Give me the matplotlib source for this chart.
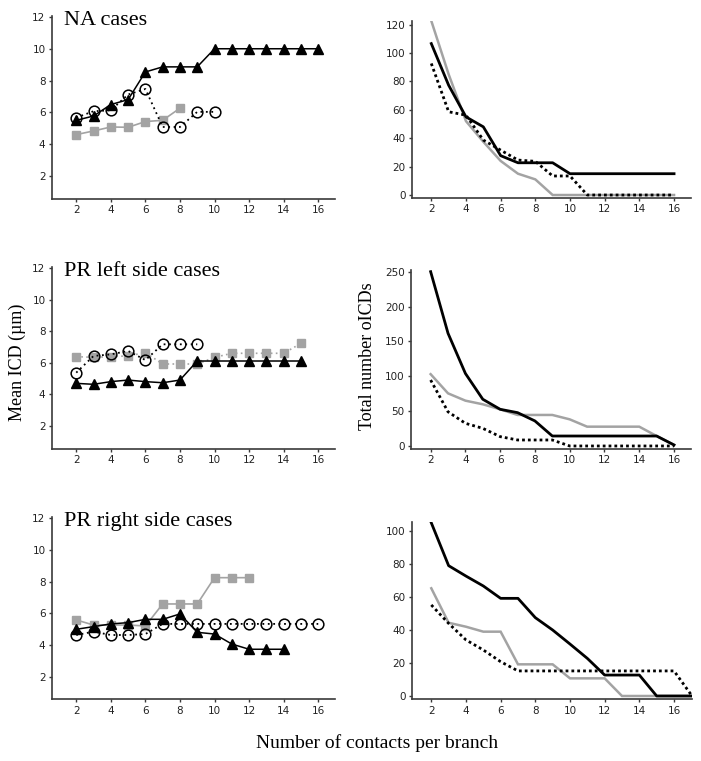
#/usr/bin/env python
'''
Mean ICD and total number of ICDs vs number of contacts per branch
'''
import numpy as np
import matplotlib
matplotlib.use('Agg')
import matplotlib.pyplot as plt

# Constants
BIGFONT=16
MIDFONT=13
SMFONT=7.5

FIG_W=701
FIG_H=761
DPI=100

GRAY='#a3a3a3'
SPINE='#3a3a3a'

# ---------------- data ----------------
x_na_tri = list(range(2, 17))
na_tri = [5.5, 5.77, 6.49, 6.8, 8.54, 8.86, 8.86, 8.86, 10, 10, 10, 10, 10, 10, 10]
x_na_circ = list(range(2, 11))
na_circ = [5.67, 6.07, 6.13, 7.12, 7.47, 5.08, 5.08, 6.03, 6.03]
x_na_sq = list(range(2, 9))
na_sq = [4.6, 4.83, 5.08, 5.06, 5.42, 5.5, 6.26]

x_na_tot = list(range(2, 17))
na_tot_black = [106.6, 77.3, 55, 48, 27.7, 22.7, 22.7, 22.7, 15, 15, 15, 15, 15, 15, 15]
na_tot_gray = [122.6, 85, 52, 37.5, 24, 15, 11, 0, 0, 0, 0, 0, 0, 0, 0]
na_tot_dot = [92.6, 58.6, 56.2, 38.7, 31.6, 24.6, 23.7, 13.4, 13.4, 0, 0, 0, 0, 0, 0]

x_pl_tri = list(range(2, 16))
pl_tri = [4.69, 4.63, 4.8, 4.9, 4.8, 4.73, 4.9, 6.11, 6.11, 6.11, 6.11, 6.11, 6.11, 6.11]
x_pl_circ = list(range(2, 10))
pl_circ = [5.37, 6.43, 6.53, 6.75, 6.17, 7.17, 7.17, 7.17]
x_pl_sq = list(range(2, 16))
pl_sq = [6.39, 6.34, 6.39, 6.43, 6.64, 5.92, 5.92, 5.92, 6.34, 6.6, 6.6, 6.6, 6.6, 7.23]

x_pl_tot = list(range(2, 17))
pl_tot_black = [250, 161.6, 104, 67, 52.6, 47.8, 35.9, 14.3, 14.3, 14.3, 14.3, 14.3, 14.3, 14.3, 1.5]
pl_tot_gray = [103, 75.5, 65, 59.8, 52.6, 44.5, 44.5, 44.5, 38.2, 27.7, 27.7, 27.7, 27.7, 14.3, 1.5]
pl_tot_dot = [94.6, 49, 32.5, 25.3, 13.4, 8.6, 8.6, 8.6, 0, 0, 0, 0, 0, 0, 0]

x_pr_tri = list(range(2, 15))
pr_tri = [4.99, 5.16, 5.33, 5.41, 5.62, 5.62, 5.96, 4.8, 4.69, 4.06, 3.73, 3.73, 3.73]
x_pr_circ = list(range(2, 17))
pr_circ = [4.63, 4.84, 4.63, 4.63, 4.69, 5.33, 5.33, 5.33, 5.33, 5.33, 5.33, 5.33, 5.33, 5.33, 5.33]
x_pr_sq = list(range(2, 13))
pr_sq = [5.58, 5.26, 5.26, 5.26, 5.2, 6.59, 6.59, 6.59, 8.25, 8.25, 8.25]

x_pr_tot = list(range(2, 18))
pr_tot_black = [105, 79, 72.7, 66.7, 59.2, 59.2, 47.5, 40, 31.5, 22.8, 12.7, 12.7, 12.7, 0, 0, 0]
pr_tot_gray = [65.3, 44.4, 42, 39, 39, 19.2, 19.2, 19.2, 10.7, 10.7, 10.7, 0, 0, 0, 0, 0]
pr_tot_dot = [55.2, 44, 34, 27.9, 20.8, 15.2, 15.2, 15.2, 15.2, 15.2, 15.2, 15.2, 15.2, 15.2, 15.2, 0.6]

titles = ['NA cases', 'PR left side cases', 'PR right side cases']

#--------------Function Defination----------------

def px_axes(fig, left, top, right, bottom):
    """ add axes from pixel box (top-left origin) """
    return fig.add_axes([left/FIG_W, 1-bottom/FIG_H, (right-left)/FIG_W, (bottom-top)/FIG_H])

def style_ax(ax):
    for s in ['top', 'right']:
        ax.spines[s].set_visible(False)
    for s in ['left', 'bottom']:
        ax.spines[s].set_color(SPINE)
        ax.spines[s].set_linewidth(1.2)
    ax.tick_params(direction='out', length=2.5, width=1.0, color=SPINE,
                   labelsize=SMFONT, labelcolor='#222222', pad=2)
    ax.set_xticks(np.arange(2, 17, 2))

def plot_mean(ax, xt, yt, xc, yc, xs, ys, sq_ls, title):
    ax.plot(xs, ys, color=GRAY, ls=sq_ls, lw=1.2, marker='s', ms=5.7,
            mfc=GRAY, mec=GRAY, zorder=2)
    ax.plot(xt, yt, color='k', ls='-', lw=1.1, marker='^', ms=6.8,
            mfc='k', mec='k', zorder=3)
    ax.plot(xc, yc, color='k', ls=(0, (1, 2)), lw=1.3, marker='o', ms=7.7,
            mfc='none', mec='k', mew=1.1, zorder=4)
    ax.set_yticks(np.arange(2, 13, 2))
    ax.set_xlim(0.58, 16.97)
    ax.text(0.043, 0.951, title, transform=ax.transAxes, ha='left', va='baseline',
            family='Liberation Serif', fontsize=BIGFONT)
    style_ax(ax)

def plot_total(ax, x, yb, yg, yd):
    ax.plot(x, yg, color=GRAY, lw=1.8, solid_joinstyle='miter', zorder=2)
    ax.plot(x, yd, color='k', ls=(0, (1, 1.1)), lw=2.0, zorder=3)
    ax.plot(x, yb, color='k', lw=2.0, zorder=4)
    style_ax(ax)

def main():
    fig = plt.figure(figsize=[FIG_W/DPI, FIG_H/DPI], dpi=DPI)

    # ---- row 1 : NA cases
    ax = px_axes(fig, 51.7, 16, 335, 199)
    plot_mean(ax, x_na_tri, na_tri, x_na_circ, na_circ, x_na_sq, na_sq, '-', titles[0])
    ax.set_ylim(0.55, 12.06)

    ax = px_axes(fig, 411.7, 21, 690.7, 198)
    plot_total(ax, x_na_tot, na_tot_black, na_tot_gray, na_tot_dot)
    ax.set_yticks(np.arange(0, 121, 20))
    ax.set_ylim(-2.1, 122.5)
    ax.set_xlim(0.87, 16.96)

    # ---- row 2 : PR left
    ax = px_axes(fig, 51.7, 266.7, 335, 448.7)
    plot_mean(ax, x_pl_tri, pl_tri, x_pl_circ, pl_circ, x_pl_sq, pl_sq, (0, (1, 2)), titles[1])
    ax.set_ylim(0.54, 12.1)

    ax = px_axes(fig, 411, 270, 690.7, 448.7)
    plot_total(ax, x_pl_tot, pl_tot_black, pl_tot_gray, pl_tot_dot)
    ax.set_yticks(np.arange(0, 251, 50))
    ax.set_ylim(-3.9, 252.4)
    ax.set_xlim(0.87, 16.96)

    # ---- row 3 : PR right
    ax = px_axes(fig, 51.7, 516.7, 335, 699.3)
    plot_mean(ax, x_pr_tri, pr_tri, x_pr_circ, pr_circ, x_pr_sq, pr_sq, '-', titles[2])
    ax.set_ylim(0.57, 12.1)

    ax = px_axes(fig, 411.7, 522.3, 691.7, 699.3)
    plot_total(ax, x_pr_tot, pr_tot_black, pr_tot_gray, pr_tot_dot)
    ax.set_yticks(np.arange(0, 101, 20))
    ax.set_ylim(-2.0, 105.3)
    ax.set_xlim(0.87, 17.02)

    # shared labels
    fig.text(17/FIG_W, 1-362/FIG_H, 'Mean ICD (\u00b5m)', rotation=90, ha='center', va='center',
             family='Liberation Serif', fontsize=MIDFONT)
    fig.text(368/FIG_W, 1-356/FIG_H, 'Total number oICDs', rotation=90, ha='center', va='center',
             family='Liberation Serif', fontsize=MIDFONT)
    fig.text(377/FIG_W, 1-743/FIG_H, 'Number of contacts per branch', ha='center', va='center',
             family='Liberation Serif', fontsize=14)

    plt.savefig('out.png', dpi=DPI)
    plt.close('all')

if __name__ == "__main__":
    main()
